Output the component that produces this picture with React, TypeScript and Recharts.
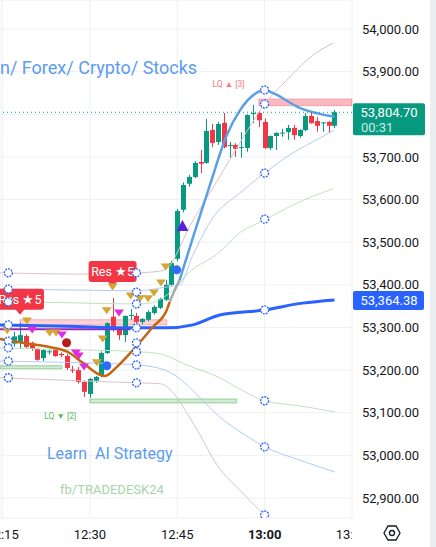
import React from 'react'
import {
  ComposedChart, Bar, Line, Scatter, XAxis, YAxis, CartesianGrid,
  ReferenceArea, ReferenceLine,
} from 'recharts'

const UP = '#089981'
const DOWN = '#f23645'

// 1-minute candles, minutes after 12:00
const minutes = [16, 17, 18, 19, 20, 21, 22, 23, 24, 25, 26, 27, 28, 29, 30, 31, 32, 33, 34, 35, 36, 37, 38, 39, 40, 41, 42, 43, 44, 45, 46, 47, 48, 49, 50, 51, 52, 53, 54, 55, 56, 57, 58, 59, 60, 61, 62, 63, 64, 65, 66, 67, 68, 69, 70, 71, 72]
const opens = [53271, 53262, 53264, 53280, 53264, 53250, 53228, 53242, 53247, 53238, 53233, 53201, 53200, 53172, 53144, 53175, 53188, 53240, 53325, 53297, 53282, 53327, 53327, 53313, 53318, 53334, 53346, 53365, 53400, 53461, 53576, 53637, 53653, 53688, 53686, 53763, 53735, 53780, 53726, 53728, 53721, 53721, 53801, 53803, 53782, 53721, 53749, 53755, 53758, 53768, 53749, 53763, 53796, 53784, 53780, 53782, 53773]
const highs = [53276, 53290, 53311, 53284, 53267, 53252, 53249, 53249, 53252, 53241, 53238, 53210, 53207, 53175, 53182, 53186, 53244, 53312, 53369, 53300, 53328, 53343, 53334, 53322, 53340, 53352, 53370, 53411, 53456, 53578, 53640, 53658, 53690, 53716, 53789, 53777, 53782, 53803, 53735, 53732, 53758, 53800, 53822, 53806, 53790, 53750, 53758, 53766, 53775, 53775, 53765, 53803, 53803, 53794, 53782, 53784, 53810]
const lows = [53250, 53255, 53250, 53252, 53245, 53222, 53221, 53236, 53231, 53230, 53200, 53193, 53168, 53137, 53135, 53170, 53183, 53238, 53290, 53271, 53266, 53318, 53310, 53308, 53314, 53330, 53343, 53362, 53398, 53455, 53570, 53630, 53650, 53662, 53684, 53723, 53728, 53720, 53698, 53700, 53698, 53712, 53780, 53770, 53719, 53716, 53716, 53747, 53740, 53740, 53745, 53760, 53778, 53759, 53759, 53756, 53768]
const closes = [53254, 53279, 53282, 53254, 53250, 53224, 53247, 53244, 53233, 53235, 53205, 53199, 53172, 53149, 53179, 53184, 53240, 53310, 53301, 53282, 53327, 53329, 53313, 53320, 53336, 53348, 53367, 53400, 53451, 53573, 53634, 53653, 53686, 53684, 53761, 53733, 53777, 53723, 53728, 53719, 53723, 53798, 53803, 53786, 53721, 53749, 53756, 53757, 53768, 53751, 53763, 53796, 53779, 53773, 53781, 53773, 53804.7]

// band lines [minute, price]
const mauveUpper = [[14.5, 53428], [22, 53426], [30, 53425], [38, 53428], [42, 53432], [43.7, 53444], [44.6, 53465], [47.1, 53536], [50.6, 53615], [54, 53693], [57.4, 53770], [60, 53824], [63.8, 53880], [67.7, 53932], [71.7, 53967]]
const blueUpper = [[14.5, 53390], [26, 53388], [38, 53386], [43.2, 53395], [45.4, 53400], [47.7, 53470], [51.1, 53557], [55.7, 53615], [60, 53662], [64.8, 53709], [68.9, 53740], [72, 53763]]
const greenUpper = [[14.5, 53360], [26, 53358], [38, 53355], [40.3, 53357], [43.7, 53381], [47.1, 53430], [52.1, 53475], [55.7, 53522], [60, 53552], [64.8, 53587], [71.7, 53625]]
const centerLine = [[14.5, 53306], [26, 53303], [37.4, 53299], [43.2, 53299], [47.7, 53306], [52.3, 53329], [60, 53341], [66.5, 53357], [72, 53364.38]]
const greenLower = [[14.5, 53252], [26, 53248], [38.1, 53243], [42, 53238], [46.6, 53212], [52.3, 53182], [56.6, 53149], [60, 53128], [66, 53116], [72, 53102]]
const blueLower = [[14.5, 53221], [26, 53218], [38.1, 53212], [42.9, 53200], [46.3, 53170], [48.9, 53135], [52.3, 53090], [56.6, 53048], [60, 53020], [66, 52989], [72, 52961]]
const mauveLower = [[14.5, 53182], [26, 53176], [38.1, 53170], [42, 53168], [44.6, 53142], [46.3, 53107], [48.9, 53048], [51.8, 52978], [55.7, 52919], [60, 52860], [66, 52795], [72, 52740]]

// kernel curve, coloured by segment
const kernelBrown = [[14.5, 53273], [17.5, 53266], [23.1, 53254], [26.1, 53243], [28.8, 53217], [31.7, 53189], [32.6, 53186], [34.6, 53207], [37.4, 53247], [40.8, 53301], [43.2, 53341], [43.7, 53360]]
const kernelGrey = [[43.7, 53360], [44.9, 53397], [45.4, 53411]]
const kernelBlue = [[45.4, 53411], [48, 53524], [50.6, 53634], [53.5, 53751], [55.7, 53808], [58.6, 53850], [60, 53857], [61.4, 53850], [66, 53815], [72, 53794]]

// markers
const bandMarks = [[16, 53428], [16, 53390], [16, 53360], [16, 53306], [16, 53268], [16, 53252], [16, 53221], [16, 53182], [38, 53428], [38, 53383], [38, 53355], [38, 53299], [38, 53264], [38, 53243], [38, 53212], [38, 53170], [60, 53857], [60, 53824], [60, 53662], [60, 53554], [60, 53341], [60, 53128], [60, 53020], [60, 52860]]
const goldDown = [[15.8, 53292], [19.2, 53315], [23.1, 53287], [24.2, 53287], [31.2, 53217], [32.2, 53273], [32.9, 53339], [33.9, 53395], [37, 53374], [38.6, 53367], [40, 53367], [41, 53381], [42.2, 53404], [43, 53442]]
const magentaDown = [[20.1, 53294], [25.2, 53282], [27.6, 53240], [28.1, 53233], [29, 53207], [35, 53334]]
const redDots = [[26, 53264]]
const blueDots = [[32.9, 53210], [44.9, 53435]]
const purpleUp = [[45.9, 53538]]
const resLabels = [[33.9, 53390], [18, 53325]]
const lqUp = [[53.8, 53871]]
const lqDown = [[24.9, 53092]]

const priceTicks = [52900, 53000, 53100, 53200, 53300, 53400, 53500, 53600, 53700, 53800, 53900, 54000]
const timeTicks = [15, 30, 45, 60, 75]
const timeLabels = ['12:15', '12:30', '12:45', '13:00', '13:15']
const lastPrice = 53804.7
const lastCenter = 53364.38

const candles = minutes.map((t, i) => ({ t, o: opens[i], h: highs[i], l: lows[i], c: closes[i] }))
const pts = (a: number[][]) => a.map(([t, v]) => ({ t, v }))
const fmt = (v: number) => v.toLocaleString('en-US', { minimumFractionDigits: 2, maximumFractionDigits: 2 })
// the last-price tag sits on top of the tick it hides
const axisFmt = (v: number) => (Math.abs(v - lastPrice) < 30 ? '' : fmt(v))

function Candle(props: any) {
  const { x, y, width, height, payload } = props
  const { o, h, l, c } = payload
  const xc = Math.round(x + width / 2)
  const yAt = (v: number) => y + ((h - v) / (h - l || 1)) * height
  const top = yAt(Math.max(o, c))
  const bot = yAt(Math.min(o, c))
  const color = c >= o ? UP : DOWN
  return (
    <g>
      <line x1={xc + 0.5} x2={xc + 0.5} y1={y} y2={y + height} stroke={color} strokeWidth={1} />
      <rect x={xc - 2} y={top} width={5} height={Math.max(1, bot - top)} fill={color} />
    </g>
  )
}

const triDown = (fill: string) => (p: any) => (
  <polygon points={`${p.cx - 5},${p.cy - 3.5} ${p.cx + 5},${p.cy - 3.5} ${p.cx},${p.cy + 3.5}`} fill={fill} />
)
const triUp = (fill: string) => (p: any) => (
  <polygon points={`${p.cx - 6},${p.cy + 5} ${p.cx + 6},${p.cy + 5} ${p.cx},${p.cy - 6}`} fill={fill} />
)
const dot = (fill: string, r: number) => (p: any) => <circle cx={p.cx} cy={p.cy} r={r} fill={fill} />
const ring = (p: any) => (
  <circle cx={p.cx} cy={p.cy} r={4} fill="#fff" stroke="#2962ff" strokeWidth={1.3} strokeDasharray="2 1" />
)
const resTag = (p: any) => (
  <g>
    <rect x={p.cx - 24} y={p.cy - 28} width={48} height={21} rx={3} fill={DOWN} />
    <polygon points={`${p.cx - 5},${p.cy - 8} ${p.cx + 5},${p.cy - 8} ${p.cx},${p.cy - 2}`} fill={DOWN} />
    <text x={p.cx} y={p.cy - 13} textAnchor="middle" fontSize={12.5} fill="#fff">Res ★5</text>
  </g>
)
const lqText = (label: string, fill: string) => (p: any) => (
  <text x={p.cx} y={p.cy + 3} textAnchor="middle" fontSize={8.5} fill={fill}>{label}</text>
)

function TimeTick({ x, y, payload }: any) {
  const i = timeTicks.indexOf(payload.value)
  return (
    <g>
      <defs>
        <clipPath id={`tclip${i}`}><rect x={0} y={500} width={352} height={47} /></clipPath>
      </defs>
      <text x={x} y={y + 19} textAnchor="middle" fontSize={13} fill="#131722"
        fontWeight={payload.value === 60 ? 700 : 400} clipPath={`url(#tclip${i})`}>
        {timeLabels[i]}
      </text>
    </g>
  )
}

const lastTag = (p: any) => {
  const { x, y, width } = p.viewBox
  const left = x + width + 1
  return (
    <g>
      <rect x={left} y={y - 9} width={72} height={32} rx={2} fill={UP} />
      <text x={left + 36} y={y + 5} textAnchor="middle" fontSize={13} fill="#fff">{fmt(lastPrice)}</text>
      <text x={left + 8} y={y + 20} fontSize={13} fill="#c8ece4">00:31</text>
    </g>
  )
}
const centerTag = (p: any) => {
  const { x, y, width } = p.viewBox
  const left = x + width + 1
  return (
    <g>
      <rect x={left} y={y - 9} width={71} height={19} rx={2} fill="#2962ff" />
      <text x={left + 36} y={y + 5} textAnchor="middle" fontSize={13} fill="#fff">{fmt(lastCenter)}</text>
    </g>
  )
}

const thin = { dot: false, isAnimationActive: false, type: 'monotone' as const, dataKey: 'v', activeDot: false }

export default function App() {
  return (
    <div style={{ position: 'absolute', left: 0, top: 0, width: 436, height: 547, background: '#fff', fontFamily: 'Roboto, sans-serif' }}>
      <ComposedChart width={430} height={547} data={candles} margin={{ top: 0, right: 0, bottom: 0, left: 0 }}>
        <CartesianGrid stroke="#eef0f4" />
        <XAxis dataKey="t" type="number" domain={[14.57, 75]} allowDataOverflow ticks={timeTicks} interval={0}
          axisLine={false} tickLine={false} tickSize={0} height={29} tick={<TimeTick />} />
        <YAxis orientation="right" type="number" domain={[52853, 54068]} allowDataOverflow ticks={priceTicks} interval={0}
          width={78} axisLine={false} tickLine={false} tickSize={0} tickMargin={10}
          tick={{ fill: '#131722', fontSize: 13 }} tickFormatter={axisFmt} />

        <ReferenceArea x1={14.57} x2={25.2} y1={53203} y2={53210} fill="#4caf50" fillOpacity={0.25} stroke="#81c784" strokeOpacity={0.8} />
        <ReferenceArea x1={30} x2={55.2} y1={53123} y2={53132} fill="#4caf50" fillOpacity={0.25} stroke="#81c784" strokeOpacity={0.8} />
        <ReferenceArea x1={18} x2={43.2} y1={53306} y2={53318} fill={DOWN} fillOpacity={0.22} stroke={DOWN} strokeOpacity={0.35} />
        <ReferenceArea x1={59} x2={75} y1={53820} y2={53836} fill={DOWN} fillOpacity={0.35} stroke={DOWN} strokeOpacity={0.3} />

        <Bar dataKey={(d: any) => [d.l, d.h]} barSize={5} shape={<Candle />} isAnimationActive={false} />

        <Line {...thin} data={pts(mauveUpper)} stroke="#dcc3c8" strokeWidth={1} />
        <Line {...thin} data={pts(blueUpper)} stroke="#b3cbfb" strokeWidth={1} />
        <Line {...thin} data={pts(greenUpper)} stroke="#bfe3bf" strokeWidth={1} />
        <Line {...thin} data={pts(greenLower)} stroke="#bfe3bf" strokeWidth={1} />
        <Line {...thin} data={pts(blueLower)} stroke="#b3cbfb" strokeWidth={1} />
        <Line {...thin} data={pts(mauveLower)} stroke="#dcc3c8" strokeWidth={1} />
        <ReferenceLine segment={[{ x: 14.57, y: 53296 }, { x: 37, y: 53296 }]} stroke="#9c27b0" strokeWidth={2} />
        <Line {...thin} data={pts(centerLine)} stroke="#2962ff" strokeWidth={3} />
        <Line {...thin} data={pts(kernelBrown)} stroke="#c4650f" strokeWidth={2.5} />
        <Line {...thin} data={pts(kernelGrey)} stroke="#a8a8a8" strokeWidth={2.5} />
        <Line {...thin} data={pts(kernelBlue)} stroke="#5aa0e8" strokeWidth={2.5} />

        <ReferenceLine y={lastPrice} stroke={UP} strokeDasharray="1 3" label={lastTag} />
        <ReferenceLine y={lastCenter} stroke="none" label={centerTag} />

        <Scatter data={pts(resLabels)} dataKey="v" shape={resTag} isAnimationActive={false} />
        <Scatter data={pts(goldDown)} dataKey="v" shape={triDown('#d4a537')} isAnimationActive={false} />
        <Scatter data={pts(magentaDown)} dataKey="v" shape={triDown('#e02be0')} isAnimationActive={false} />
        <Scatter data={pts(redDots)} dataKey="v" shape={dot('#b71c1c', 4.5)} isAnimationActive={false} />
        <Scatter data={pts(blueDots)} dataKey="v" shape={dot('#2f6bff', 4.5)} isAnimationActive={false} />
        <Scatter data={pts(purpleUp)} dataKey="v" shape={triUp('#5b21d9')} isAnimationActive={false} />
        <Scatter data={pts(bandMarks)} dataKey="v" shape={ring} isAnimationActive={false} />
        <Scatter data={pts(lqUp)} dataKey="v" shape={lqText('LQ ▲ [3]', '#f7787e')} isAnimationActive={false} />
        <Scatter data={pts(lqDown)} dataKey="v" shape={lqText('LQ ▼ [2]', '#5cb860')} isAnimationActive={false} />
      </ComposedChart>

      <svg width={436} height={547} style={{ position: 'absolute', left: 0, top: 0, pointerEvents: 'none' }}>
        <text x={0} y={74} fontSize={18} fill="#5b9cf0">n/ Forex/ Crypto/ Stocks</text>
        <text x={47} y={459} fontSize={16} fill="#5b9cf0" style={{ whiteSpace: 'pre' }}>Learn  AI Strategy</text>
        <text x={60} y={494} fontSize={13} fill="#a5d6a7">fb/TRADEDESK24</text>
        <rect x={430} y={0} width={6} height={547} fill="#ebedf0" />
        <polygon points="384,533 388,526 396,526 400,533 396,540 388,540" fill="none" stroke="#131722" strokeWidth={1.3} />
        <circle cx={392} cy={533} r={2.5} fill="none" stroke="#131722" strokeWidth={1.3} />
      </svg>
    </div>
  )
}
